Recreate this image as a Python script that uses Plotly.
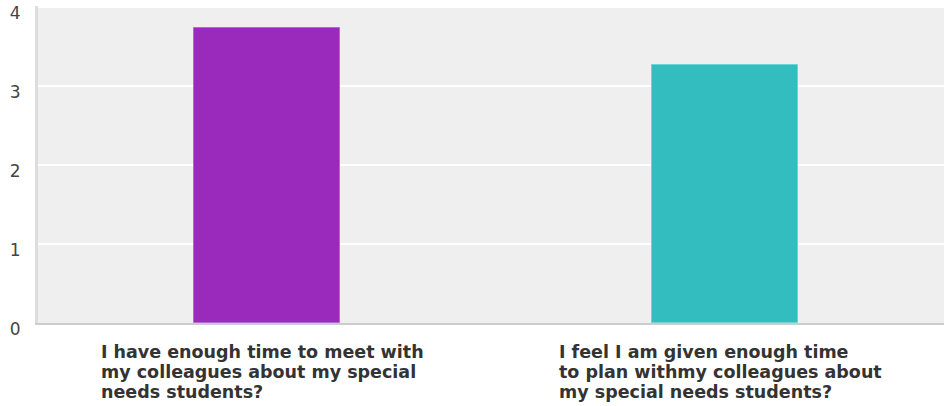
import plotly.graph_objects as go

category_lines = [
    ["I have enough time to meet with", "my colleagues about my special", "needs students?"],
    ["I feel I am given enough time", "to plan withmy colleagues about", "my special needs students?"],
]
values = [3.73, 3.26]
colors = ["#9a2abb", "#33bdbf"]
line_colors = ["#b566d0", "#6fd2d3"]
y_ticks = [0, 1, 2, 3, 4]

x_pos = list(range(len(category_lines)))

fig = go.Figure()
fig.add_trace(go.Bar(
    x=x_pos,
    y=values,
    width=0.32,
    marker=dict(color=colors, line=dict(color=line_colors, width=1)),
    hoverinfo="skip",
))

label_font = dict(family="DejaVu Sans, Arial, sans-serif", size=17.5, color="#333333", weight="bold")
for xi, lines in zip(x_pos, category_lines):
    for li, line in enumerate(lines):
        fig.add_annotation(
            x=xi, xref="x", y=0, yref="paper",
            yanchor="top", xanchor="left", align="left",
            yshift=-17 - 20 * li, xshift=-168,
            text=line, showarrow=False,
            font=label_font,
        )

fig.update_layout(
    width=944, height=406,
    margin=dict(l=38, r=0, t=6, b=83, autoexpand=False),
    paper_bgcolor="white",
    plot_bgcolor="#efefef",
    showlegend=False,
    bargap=0,
    xaxis=dict(
        range=[-0.501, 1.479],
        showticklabels=False,
        showgrid=False,
        zeroline=False,
        showline=True, linecolor="#cccccc", linewidth=2,
        fixedrange=True,
        automargin=False,
    ),
    yaxis=dict(
        range=[0, 4.013],
        tickvals=y_ticks,
        ticktext=[str(v) for v in y_ticks],
        showgrid=True, gridcolor="#ffffff", gridwidth=2,
        zeroline=False,
        showline=True, linecolor="#dddddd", linewidth=3,
        tickfont=dict(family="DejaVu Sans, Arial, sans-serif", size=17, color="#444444"),
        ticklabelstandoff=11,
        ticklabelshift=6,
        ticklabeloverflow="allow",
        fixedrange=True,
        automargin=False,
    ),
)

fig.write_html("out.html", config={"displayModeBar": False},
               post_script="document.body.style.margin='0';")
